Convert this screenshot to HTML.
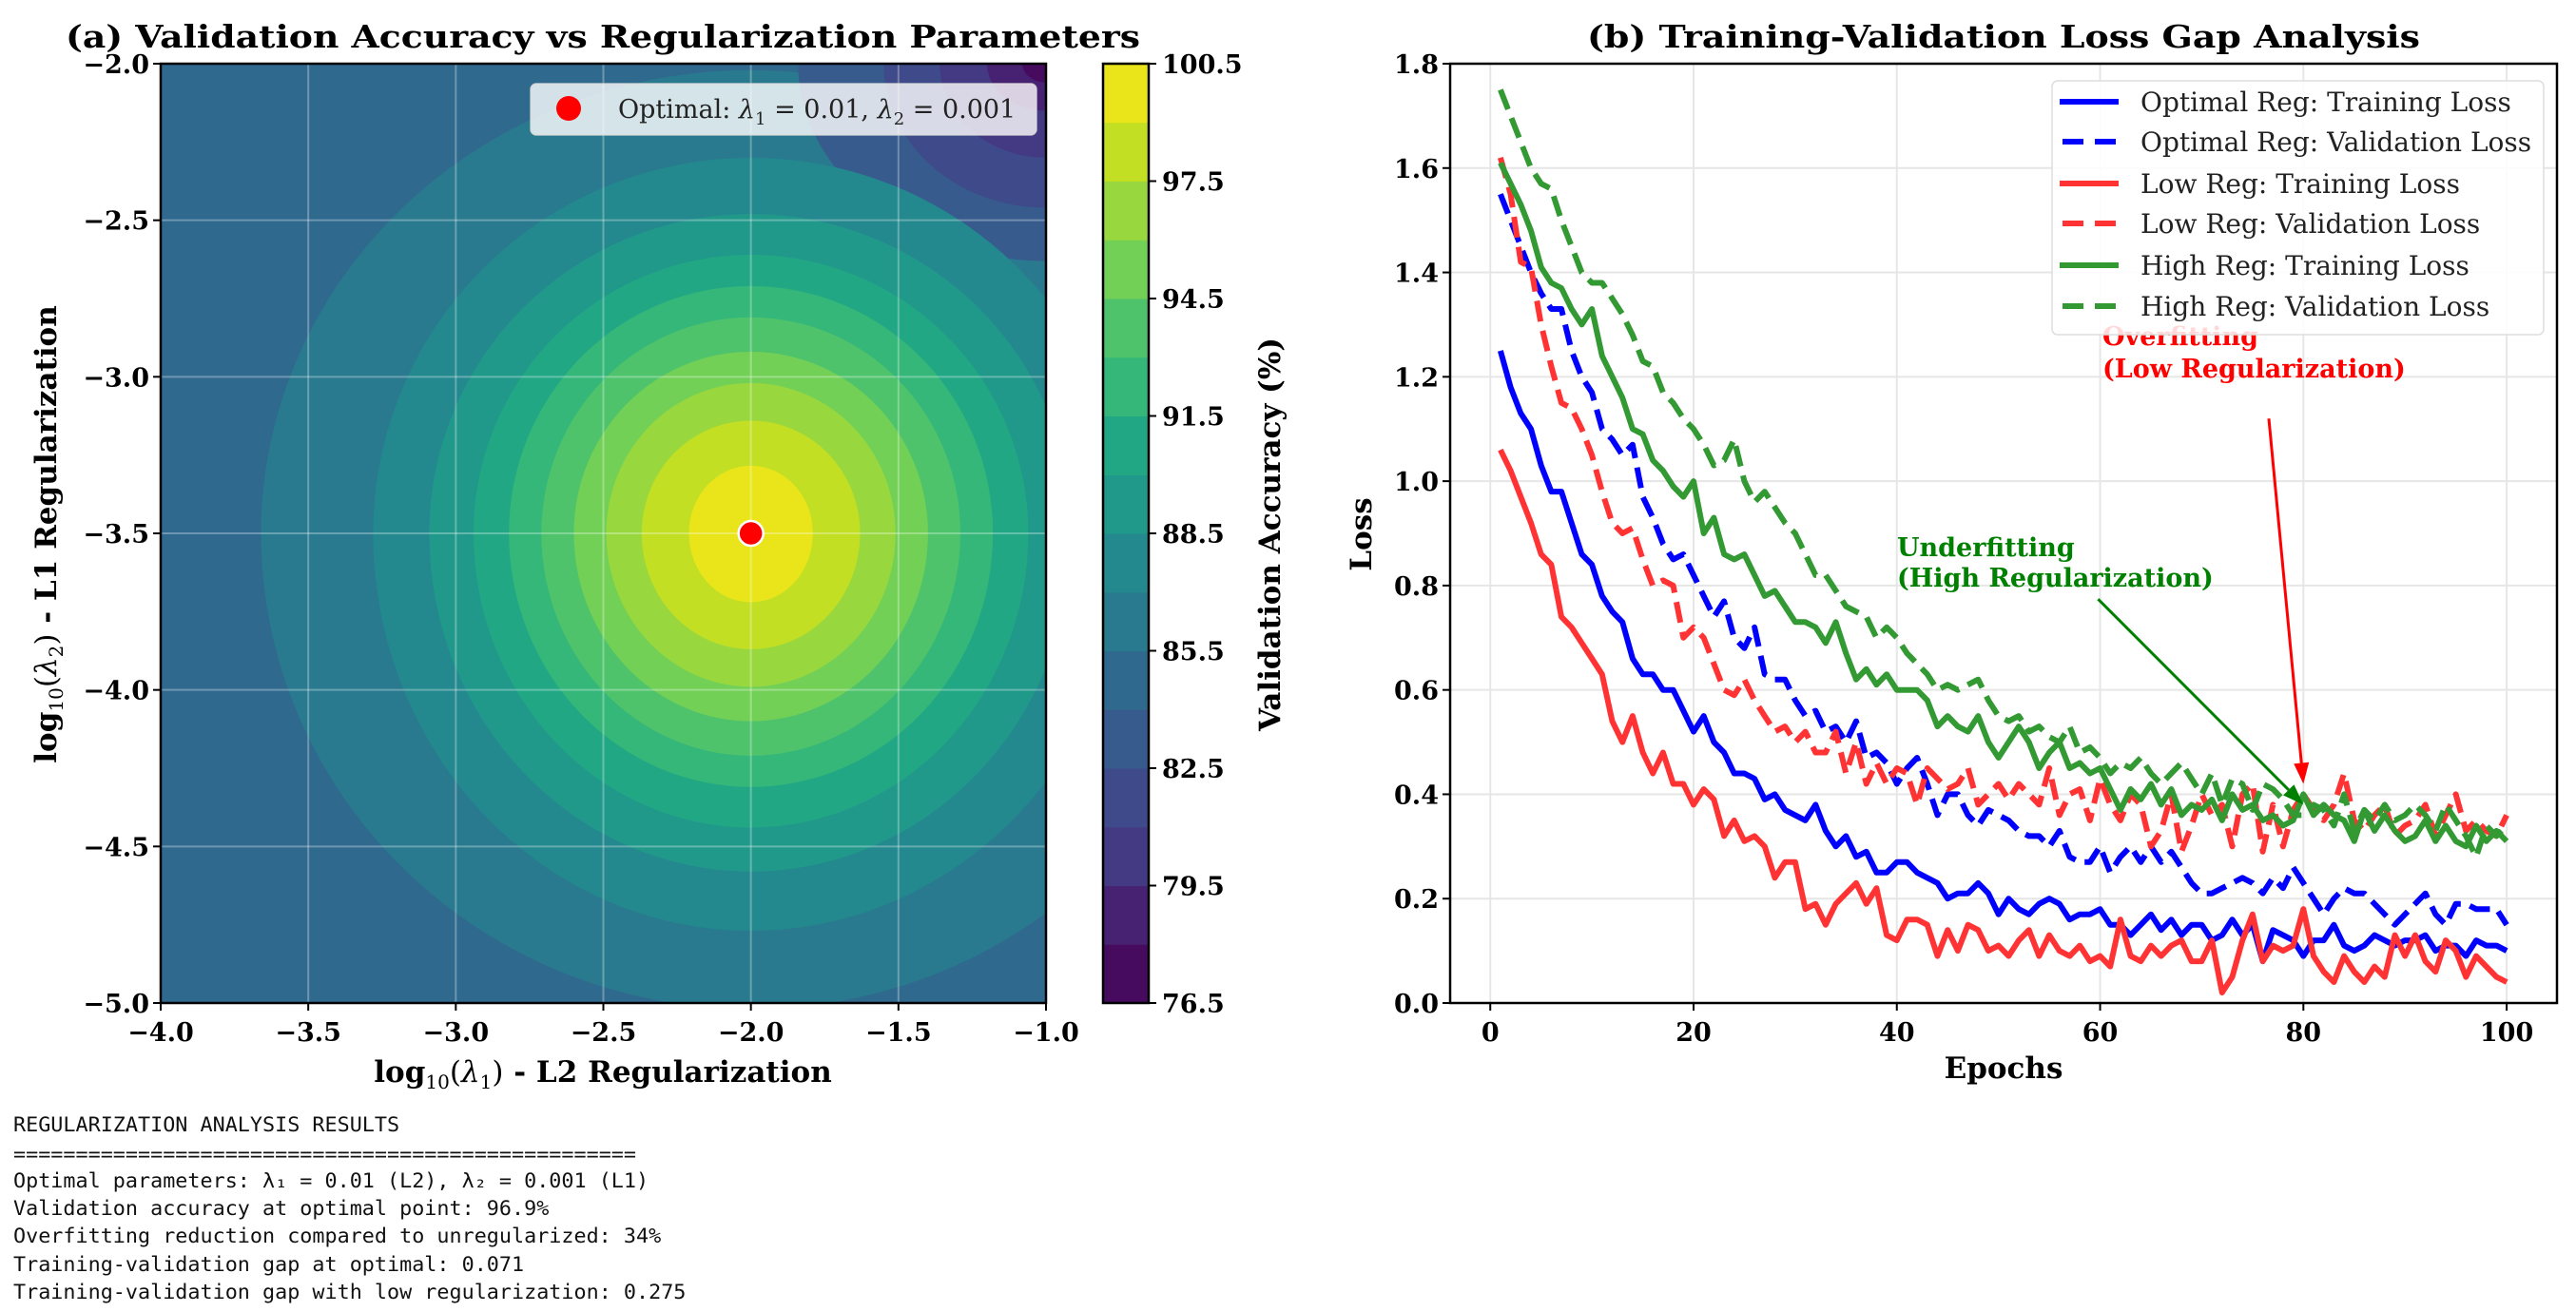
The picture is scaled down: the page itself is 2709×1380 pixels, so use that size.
<!DOCTYPE html>
<html><head><meta charset="utf-8"><style>
html,body{margin:0;padding:0;background:#fff;}
svg{display:block;}
text{font-family:"DejaVu Serif","Liberation Serif",serif;}
.mono{font-family:"DejaVu Sans Mono","Liberation Mono",monospace;}
</style></head><body>
<svg id="fig" width="2709" height="1380" viewBox="0 0 2709 1380" xmlns="http://www.w3.org/2000/svg"></svg>
<script>
// ---------- data ----------
const viridisBands=['#460b5e','#482272','#443983','#3e4a89','#375b8d','#30698e','#297a8e','#23898e','#21998a','#22a785','#35b779','#4ec36b','#73d056','#98d83e','#c2df23','#e9e51a'];
const cbarTicks=[76.5,79.5,82.5,85.5,88.5,91.5,94.5,97.5,100.5];
const centralLevels=[85.5,87,88.5,90,91.5,93,94.5,96,97.5,99];
const centralRadiusX=[1.66,1.28,1.09,0.94,0.82,0.71,0.60,0.49,0.37,0.21];
const centralRadiusTop=[1.48,1.20,1.02,0.89,0.79,0.69,0.58,0.48,0.36,0.216];
const centralRadiusBottom=[1.52,1.27,1.08,0.94,0.81,0.71,0.60,0.49,0.37,0.22];
const cornerLevels=[84,82.5,81,79.5,78];
const cornerRadiusX=[0.84,0.55,0.36,0.20,0.08];
const cornerRadiusY=[0.63,0.46,0.30,0.15,0.06];
const optimum=[-2,-3.5];
const xTicksA=[-4.0,-3.5,-3.0,-2.5,-2.0,-1.5,-1.0];
const yTicksA=[-2.0,-2.5,-3.0,-3.5,-4.0,-4.5,-5.0];
const xTicksB=[0,20,40,60,80,100];
const yTicksB=[0.0,0.2,0.4,0.6,0.8,1.0,1.2,1.4,1.6,1.8];
const optTrain=[1.25,1.18,1.13,1.10,1.03,0.98,0.98,0.92,0.86,0.84,0.78,0.75,0.73,0.66,0.63,0.63,0.60,0.60,0.56,0.52,0.55,0.50,0.48,0.44,0.44,0.43,0.39,0.40,0.37,0.36,0.35,0.38,0.33,0.30,0.32,0.28,0.29,0.25,0.25,0.27,0.27,0.25,0.24,0.23,0.20,0.21,0.21,0.23,0.21,0.17,0.20,0.18,0.17,0.19,0.20,0.19,0.16,0.17,0.17,0.18,0.15,0.15,0.13,0.15,0.17,0.14,0.16,0.13,0.15,0.15,0.12,0.13,0.16,0.13,0.15,0.08,0.14,0.13,0.12,0.09,0.12,0.12,0.15,0.11,0.10,0.11,0.13,0.12,0.11,0.12,0.12,0.13,0.10,0.11,0.11,0.09,0.12,0.11,0.11,0.10];
const optVal=[1.55,1.50,1.45,1.40,1.36,1.33,1.33,1.25,1.20,1.17,1.10,1.08,1.05,1.07,0.97,0.93,0.88,0.85,0.86,0.82,0.78,0.74,0.77,0.70,0.68,0.72,0.63,0.62,0.62,0.58,0.55,0.56,0.52,0.53,0.50,0.54,0.47,0.48,0.46,0.42,0.45,0.47,0.42,0.36,0.40,0.40,0.36,0.34,0.37,0.36,0.35,0.33,0.32,0.32,0.30,0.33,0.28,0.27,0.27,0.30,0.25,0.28,0.30,0.27,0.30,0.27,0.29,0.26,0.23,0.21,0.21,0.22,0.23,0.24,0.23,0.21,0.24,0.22,0.26,0.23,0.20,0.17,0.20,0.22,0.21,0.21,0.19,0.17,0.15,0.17,0.19,0.21,0.17,0.15,0.19,0.19,0.18,0.18,0.18,0.15];
const lowTrain=[1.06,1.02,0.97,0.92,0.86,0.84,0.74,0.72,0.69,0.66,0.63,0.54,0.50,0.55,0.48,0.44,0.48,0.42,0.42,0.38,0.41,0.39,0.32,0.35,0.31,0.32,0.30,0.24,0.27,0.27,0.18,0.19,0.15,0.19,0.21,0.23,0.19,0.22,0.13,0.12,0.16,0.16,0.15,0.09,0.14,0.10,0.15,0.14,0.10,0.11,0.09,0.12,0.14,0.09,0.13,0.10,0.09,0.11,0.08,0.09,0.07,0.16,0.09,0.08,0.11,0.09,0.11,0.12,0.08,0.08,0.12,0.02,0.05,0.12,0.17,0.08,0.11,0.10,0.11,0.18,0.09,0.06,0.04,0.09,0.06,0.04,0.07,0.05,0.13,0.09,0.13,0.08,0.06,0.12,0.10,0.05,0.09,0.07,0.05,0.04];
const lowVal=[1.62,1.55,1.42,1.41,1.30,1.22,1.15,1.14,1.10,1.05,0.98,0.92,0.90,0.91,0.85,0.80,0.81,0.80,0.70,0.72,0.70,0.65,0.60,0.59,0.62,0.58,0.55,0.52,0.53,0.50,0.52,0.48,0.48,0.52,0.44,0.50,0.42,0.46,0.42,0.45,0.44,0.38,0.45,0.43,0.41,0.42,0.45,0.38,0.40,0.42,0.39,0.42,0.40,0.38,0.45,0.36,0.40,0.41,0.35,0.43,0.38,0.35,0.40,0.38,0.30,0.33,0.40,0.29,0.34,0.40,0.36,0.38,0.30,0.40,0.42,0.29,0.38,0.30,0.37,0.40,0.37,0.35,0.38,0.44,0.35,0.33,0.36,0.38,0.32,0.34,0.35,0.38,0.32,0.36,0.40,0.33,0.35,0.33,0.32,0.36];
const highTrain=[1.61,1.57,1.53,1.48,1.41,1.38,1.37,1.33,1.30,1.33,1.24,1.20,1.16,1.10,1.09,1.04,1.02,0.99,0.97,1.00,0.90,0.93,0.86,0.85,0.86,0.82,0.78,0.79,0.76,0.73,0.73,0.72,0.69,0.73,0.67,0.62,0.64,0.61,0.63,0.60,0.60,0.60,0.58,0.53,0.55,0.53,0.52,0.55,0.50,0.47,0.50,0.53,0.50,0.45,0.48,0.50,0.45,0.46,0.44,0.45,0.41,0.37,0.41,0.39,0.42,0.38,0.41,0.36,0.38,0.37,0.39,0.35,0.40,0.37,0.38,0.35,0.36,0.34,0.35,0.40,0.36,0.38,0.36,0.35,0.31,0.37,0.33,0.36,0.33,0.31,0.32,0.35,0.31,0.34,0.31,0.30,0.34,0.31,0.33,0.31];
const highVal=[1.75,1.70,1.65,1.60,1.57,1.56,1.50,1.45,1.40,1.38,1.38,1.35,1.32,1.28,1.23,1.22,1.17,1.15,1.12,1.10,1.07,1.03,1.04,1.08,1.00,0.96,0.98,0.95,0.92,0.90,0.86,0.82,0.82,0.79,0.76,0.75,0.74,0.70,0.72,0.70,0.67,0.65,0.63,0.60,0.61,0.60,0.61,0.62,0.58,0.55,0.54,0.55,0.52,0.53,0.51,0.50,0.53,0.48,0.49,0.47,0.44,0.46,0.45,0.47,0.44,0.42,0.44,0.46,0.43,0.40,0.44,0.38,0.43,0.42,0.37,0.42,0.41,0.39,0.36,0.36,0.38,0.37,0.34,0.40,0.33,0.37,0.35,0.38,0.35,0.36,0.38,0.36,0.33,0.38,0.35,0.32,0.28,0.34,0.32,0.34];

// ---------- helpers ----------
const NS='http://www.w3.org/2000/svg';
const svg=document.getElementById('fig');
function mk(tag,attrs,parent){const e=document.createElementNS(NS,tag);for(const k in attrs)e.setAttribute(k,attrs[k]);(parent||svg).appendChild(e);return e;}
const A={x0:169,x1:1100,y0:67,y1:1055};
const sx=v=>A.x0+(v+4)/3*(A.x1-A.x0);
const sy=v=>A.y0+(-2-v)/3*(A.y1-A.y0);
const B={x0:1525,x1:2689,y0:67,y1:1055};
const ex=e=>B.x0+(e+3.95)/108.9*(B.x1-B.x0);
const ly=v=>B.y1-v/1.8*(B.y1-B.y0);
const fmt=v=>(v<0?'\u2212':'')+Math.abs(v).toFixed(1);

// ---------- panel a ----------
const defs=mk('defs',{});
const cp=mk('clipPath',{id:'clipA'},defs);
mk('rect',{x:A.x0,y:A.y0,width:A.x1-A.x0,height:A.y1-A.y0},cp);
const cpb=mk('clipPath',{id:'clipB'},defs);
mk('rect',{x:B.x0,y:B.y0,width:B.x1-B.x0,height:B.y1-B.y0},cpb);
const gA=mk('g',{'clip-path':'url(#clipA)'});


let bg=mk('rect',{x:A.x0,y:A.y0,width:A.x1-A.x0,height:A.y1-A.y0,fill:viridisBands[5]},gA);


const pxX=(A.x1-A.x0)/3, pxY=(A.y1-A.y0)/3;
function central(i){
  const lvl=centralLevels[i];const idx=Math.round((lvl-76.5)/1.5);
  const cx=sx(optimum[0]),cy=sy(optimum[1]);
  const rx=centralRadiusX[i]*pxX,rt=centralRadiusTop[i]*pxY,rb=centralRadiusBottom[i]*pxY;
  const d=`M${cx-rx},${cy} A${rx},${rt} 0 0 1 ${cx+rx},${cy} A${rx},${rb} 0 0 1 ${cx-rx},${cy} Z`;
  const el=mk('path',{d:d,fill:viridisBands[idx]},gA);
  
  
}
central(0);
cornerLevels.forEach((lvl,i)=>{
  const idx=Math.round((lvl-76.5)/1.5)-1;
  const el=mk('ellipse',{cx:sx(-1),cy:sy(-2),rx:cornerRadiusX[i]*pxX,ry:cornerRadiusY[i]*pxY,fill:viridisBands[idx]},gA);
  
  
});
for(let i=1;i<centralLevels.length;i++)central(i);
// grid
xTicksA.forEach(v=>{const l=mk('line',{x1:sx(v),x2:sx(v),y1:A.y0,y2:A.y1,stroke:'rgba(255,255,255,0.3)','stroke-width':2},gA);

});
yTicksA.forEach(v=>{const l=mk('line',{y1:sy(v),y2:sy(v),x1:A.x0,x2:A.x1,stroke:'rgba(255,255,255,0.3)','stroke-width':2},gA);

});
// optimum marker
let om=mk('circle',{cx:sx(optimum[0]),cy:sy(optimum[1]),r:13,fill:'#ff0000',stroke:'#fff','stroke-width':2.5});


// spine
let spA=mk('rect',{x:A.x0,y:A.y0,width:A.x1-A.x0,height:A.y1-A.y0,fill:'none',stroke:'#000','stroke-width':2.5});


xTicksA.forEach(v=>{
  const t=mk('line',{x1:sx(v),x2:sx(v),y1:A.y1,y2:A.y1+8,stroke:'#000','stroke-width':2});
  
  
  const tx=mk('text',{x:sx(v),y:A.y1+40,'text-anchor':'middle','font-size':27,'font-weight':'bold'});tx.textContent=fmt(v);
  
  
});
yTicksA.forEach(v=>{
  const t=mk('line',{x1:A.x0-8,x2:A.x0,y1:sy(v),y2:sy(v),stroke:'#000','stroke-width':2});
  
  
  const tx=mk('text',{x:A.x0-12,y:sy(v)+10,'text-anchor':'end','font-size':27,'font-weight':'bold'});tx.textContent=fmt(v);
  
  
});
// legend a
let lgA=mk('rect',{x:558,y:88,width:532,height:54,rx:6,fill:'rgba(255,255,255,0.8)',stroke:'rgba(220,220,220,0.8)','stroke-width':1.5});


let lgd=mk('circle',{cx:598,cy:114,r:13,fill:'#ff0000'});


let lgt=mk('text',{x:650,y:124,'font-size':27,fill:'#222'});
lgt.innerHTML='Optimal: <tspan font-style="italic">λ</tspan><tspan font-size="18" dy="7">1</tspan><tspan dy="-7"> = 0.01, </tspan><tspan font-style="italic">λ</tspan><tspan font-size="18" dy="7">2</tspan><tspan dy="-7"> = 0.001</tspan>';


// colorbar
const C={x0:1160,x1:1208};
const cy=v=>A.y1-(v-76.5)/24*(A.y1-A.y0);
viridisBands.forEach((c,i)=>{
  const lo=76.5+1.5*i;
  const r=mk('rect',{x:C.x0,y:cy(lo+1.5),width:C.x1-C.x0,height:cy(lo)-cy(lo+1.5)+0.5,fill:c});
  
  
});
let cbf=mk('rect',{x:C.x0,y:A.y0,width:C.x1-C.x0,height:A.y1-A.y0,fill:'none',stroke:'#000','stroke-width':2.5});


cbarTicks.forEach(v=>{
  const t=mk('line',{x1:C.x1,x2:C.x1+8,y1:cy(v),y2:cy(v),stroke:'#000','stroke-width':2});
  
  
  const tx=mk('text',{x:C.x1+14,y:cy(v)+10,'font-size':27,'font-weight':'bold'});tx.textContent=v.toFixed(1);
  
  
});

// ---------- panel b ----------
xTicksB.forEach(v=>{const l=mk('line',{x1:ex(v),x2:ex(v),y1:B.y0,y2:B.y1,stroke:'#e6e6e6','stroke-width':2});

});
yTicksB.forEach(v=>{const l=mk('line',{y1:ly(v),y2:ly(v),x1:B.x0,x2:B.x1,stroke:'#e6e6e6','stroke-width':2});

});
const gB=mk('g',{'clip-path':'url(#clipB)'});
function series(arr,color,dash,name){
  const pts=arr.map((v,i)=>ex(i+1).toFixed(1)+','+ly(v).toFixed(1)).join(' ');
  const p=mk('polyline',{points:pts,fill:'none',stroke:color,'stroke-width':6,'stroke-linejoin':'round','stroke-dasharray':dash||'none'},gB);
  
  
}
series(optTrain,'#0000ff',null,'optimal-training-loss-line');
series(optVal,'#0000ff','22 10','optimal-validation-loss-line');
series(lowTrain,'#ff3333',null,'low-reg-training-loss-line');
series(lowVal,'#ff3333','22 10','low-reg-validation-loss-line');
series(highTrain,'#339933',null,'high-reg-training-loss-line');
series(highVal,'#339933','22 10','high-reg-validation-loss-line');
let spB=mk('rect',{x:B.x0,y:B.y0,width:B.x1-B.x0,height:B.y1-B.y0,fill:'none',stroke:'#000','stroke-width':2.5});


xTicksB.forEach(v=>{
  const t=mk('line',{x1:ex(v),x2:ex(v),y1:B.y1,y2:B.y1+8,stroke:'#000','stroke-width':2});
  
  
  const tx=mk('text',{x:ex(v),y:B.y1+40,'text-anchor':'middle','font-size':27,'font-weight':'bold'});tx.textContent=String(v);
  
  
});
yTicksB.forEach(v=>{
  const t=mk('line',{x1:B.x0-8,x2:B.x0,y1:ly(v),y2:ly(v),stroke:'#000','stroke-width':2});
  
  
  const tx=mk('text',{x:B.x0-12,y:ly(v)+10,'text-anchor':'end','font-size':27,'font-weight':'bold'});tx.textContent=v.toFixed(1);
  
  
});
// annotations
function arrow(x1,y1,x2,y2,color,name){
  const g=mk('g',{});
  
  
  const a=Math.atan2(y2-y1,x2-x1),L=22,Wd=8;
  const bx=x2-L*Math.cos(a),by=y2-L*Math.sin(a);
  mk('line',{x1:x1,y1:y1,x2:bx,y2:by,stroke:color,'stroke-width':3},g);
  mk('polygon',{points:`${x2},${y2} ${bx+Wd*Math.sin(a)},${by-Wd*Math.cos(a)} ${bx-Wd*Math.sin(a)},${by+Wd*Math.cos(a)}`,fill:color},g);
}
let ot=mk('text',{x:2211,y:363,'font-size':27,'font-weight':'bold',fill:'#ff0000'});
ot.innerHTML='<tspan x="2211">Overfitting</tspan><tspan x="2211" dy="34">(Low Regularization)</tspan>';


arrow(ex(76.6),ly(1.12),ex(80),ly(0.42),'#ff0000','overfitting-arrow');
let ut=mk('text',{x:1995,y:585,'font-size':27,'font-weight':'bold',fill:'#008000'});
ut.innerHTML='<tspan x="1995">Underfitting</tspan><tspan x="1995" dy="32">(High Regularization)</tspan>';


arrow(ex(59.8),ly(0.774),ex(80),ly(0.38),'#008000','underfitting-arrow');
// legend b
let lgB=mk('rect',{x:2158,y:85,width:517,height:267,rx:6,fill:'rgba(255,255,255,0.85)',stroke:'#dddddd','stroke-width':1.5});


const legendLabels=['Optimal Reg: Training Loss','Optimal Reg: Validation Loss','Low Reg: Training Loss','Low Reg: Validation Loss','High Reg: Training Loss','High Reg: Validation Loss'];
const legendColors=['#0000ff','#0000ff','#ff3333','#ff3333','#339933','#339933'];
const legendRowsY=[107,149,193,235,279,322];
legendLabels.forEach((lab,i)=>{
  const dashed=i%2===1;
  const h=mk('line',{x1:dashed?2169:2166,x2:2228,y1:legendRowsY[i],y2:legendRowsY[i],stroke:legendColors[i],'stroke-width':6,'stroke-dasharray':dashed?'22 12':'none'});
  
  
  const t=mk('text',{x:2251,y:legendRowsY[i]+10,'font-size':28,fill:'#222'});t.textContent=lab;
  
  
});

// ---------- titles & labels ----------
function txt(s,attrs,name){const t=mk('text',attrs);t.innerHTML=s;

return t;}
txt('(a) Validation Accuracy vs Regularization Parameters',{x:634,y:50,'text-anchor':'middle','font-size':33,'font-weight':'bold',textLength:1130,lengthAdjust:'spacingAndGlyphs'},'title-a');
txt('(b) Training-Validation Loss Gap Analysis',{x:2107,y:50,'text-anchor':'middle','font-size':33,'font-weight':'bold',textLength:876,lengthAdjust:'spacingAndGlyphs'},'title-b');
txt('log<tspan font-size="20" dy="7" font-weight="normal">10</tspan><tspan dy="-7" font-weight="normal">(</tspan><tspan font-style="italic" font-weight="normal">λ</tspan><tspan font-size="20" dy="7" font-weight="normal">1</tspan><tspan dy="-7" font-weight="normal">)</tspan> - L2 Regularization',{x:634,y:1138,'text-anchor':'middle','font-size':31,'font-weight':'bold'},'x-axis-title-a');
txt('log<tspan font-size="20" dy="7" font-weight="normal">10</tspan><tspan dy="-7" font-weight="normal">(</tspan><tspan font-style="italic" font-weight="normal">λ</tspan><tspan font-size="20" dy="7" font-weight="normal">2</tspan><tspan dy="-7" font-weight="normal">)</tspan> - L1 Regularization',{x:0,y:0,'text-anchor':'middle','font-size':31,'font-weight':'bold',transform:'translate(59,562) rotate(-90)'},'y-axis-title-a');
txt('Validation Accuracy (%)',{x:0,y:0,'text-anchor':'middle','font-size':31,'font-weight':'bold',transform:'translate(1346,562) rotate(-90)'},'colorbar-title');
txt('Epochs',{x:2107,y:1134,'text-anchor':'middle','font-size':31,'font-weight':'bold'},'x-axis-title-b');
txt('Loss',{x:0,y:0,'text-anchor':'middle','font-size':31,'font-weight':'bold',transform:'translate(1442,562) rotate(-90)'},'y-axis-title-b');
// results text
const resultLines=['REGULARIZATION ANALYSIS RESULTS','==================================================','Optimal parameters: λ₁ = 0.01 (L2), λ₂ = 0.001 (L1)','Validation accuracy at optimal point: 96.9%','Overfitting reduction compared to unregularized: 34%','Training-validation gap at optimal: 0.071','Training-validation gap with low regularization: 0.275'];
const resultY=[1190,1221,1249,1278,1307,1337,1366];
resultLines.forEach((s,i)=>{
  const t=mk('text',{x:14,y:resultY[i],'font-size':21,'class':'mono',fill:'#111',textLength:s.length*13.1,lengthAdjust:'spacingAndGlyphs'});t.textContent=s;
  
  
});
</script>
</body></html>
